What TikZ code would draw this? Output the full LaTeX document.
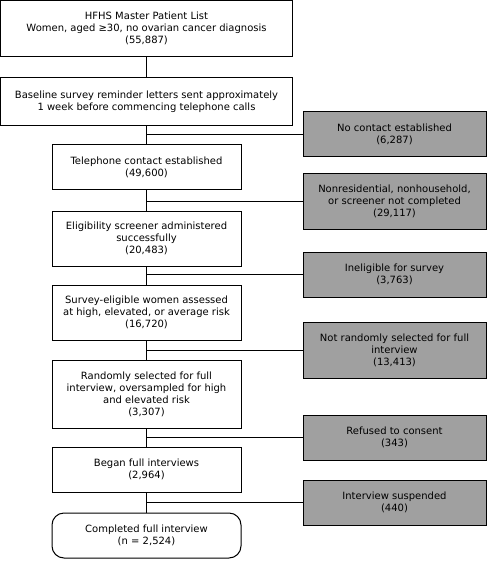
\documentclass[tikz,border=0pt]{standalone}
\usepackage{fontspec}
\setmainfont{DejaVu Sans}
\usepackage{tikz}
\usetikzlibrary{shapes,arrows,positioning}
\definecolor{exclgray}{RGB}{160,160,160}

\begin{document}
\begin{tikzpicture}[x=1pt,y=-1pt,
  every node/.style={font=\fontsize{10}{12}\selectfont,align=center,inner sep=0pt},
  flowbox/.style={draw,line width=1pt,fill=white,minimum width=189pt},
  topbox/.style={flowbox,minimum width=292pt},
  exclbox/.style={draw,line width=1pt,fill=exclgray,minimum width=183pt},
  endbox/.style={flowbox,rounded corners=12pt},
  link/.style={line width=1pt}]
% Participant flow with exclusions branching to the right
\useasboundingbox (0,0) rectangle (487,561);
\node[topbox,minimum height=56pt] (master) at (146.5,28.5) {HFHS Master Patient List\\Women, aged ≥30, no ovarian cancer diagnosis\\(55,887)};
\node[topbox,minimum height=48pt] (letters) at (146.5,102) {Baseline survey reminder letters sent approximately\\1 week before commencing telephone calls};
\node[flowbox,minimum height=45pt] (contact) at (146.5,167.5) {Telephone contact established\\(49,600)};
\node[flowbox,minimum height=55pt] (screener) at (146.5,238.5) {Eligibility screener administered\\successfully\\(20,483)};
\node[flowbox,minimum height=55pt] (assessed) at (146.5,312.5) {Survey-eligible women assessed\\at high, elevated, or average risk\\(16,720)};
\node[flowbox,minimum height=68pt] (selected) at (146.5,394) {Randomly selected for full\\interview, oversampled for high\\and elevated risk\\(3,307)};
\node[flowbox,minimum height=45pt] (began) at (146.5,469.5) {Began full interviews\\(2,964)};
\node[endbox,minimum height=45pt] (done) at (146.5,535.5) {Completed full interview\\(n = 2,524)};

\node[exclbox,minimum height=45pt] (nocontact) at (394.5,134.5) {No contact established\\(6,287)};
\node[exclbox,minimum height=55pt] (nonres) at (394.5,201.5) {Nonresidential, nonhousehold,\\or screener not completed\\(29,117)};
\node[exclbox,minimum height=45pt] (inelig) at (394.5,274.5) {Ineligible for survey\\(3,763)};
\node[exclbox,minimum height=56pt] (notsel) at (394.5,350) {Not randomly selected for full\\interview\\(13,413)};
\node[exclbox,minimum height=45pt] (refused) at (394.5,437.5) {Refused to consent\\(343)};
\node[exclbox,minimum height=45pt] (suspended) at (394.5,502.5) {Interview suspended\\(440)};

\draw[link] (master) -- (letters);
\draw[link] (letters) -- (contact);
\draw[link] (contact) -- (screener);
\draw[link] (screener) -- (assessed);
\draw[link] (assessed) -- (selected);
\draw[link] (selected) -- (began);
\draw[link] (began) -- (done);

\draw[link] (letters.south |- nocontact.west) -- (nocontact.west);
\draw[link] (contact.south |- nonres.west) -- (nonres.west);
\draw[link] (screener.south |- inelig.west) -- (inelig.west);
\draw[link] (assessed.south |- notsel.west) -- (notsel.west);
\draw[link] (selected.south |- refused.west) -- (refused.west);
\draw[link] (began.south |- suspended.west) -- (suspended.west);
\end{tikzpicture}
\end{document}
